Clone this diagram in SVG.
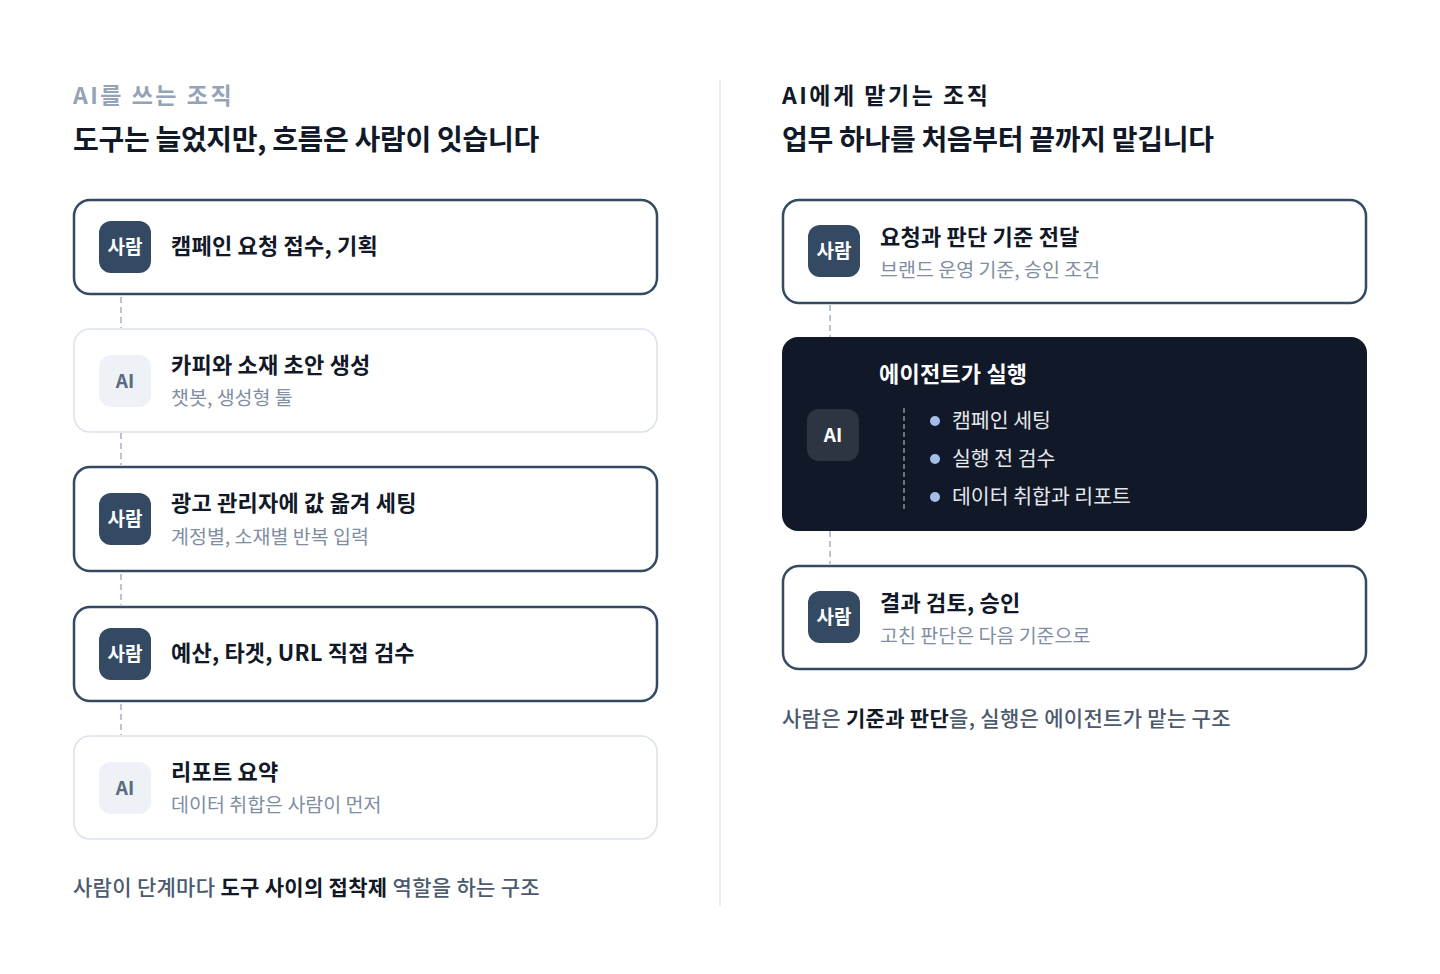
<svg xmlns="http://www.w3.org/2000/svg" width="1440" height="974" viewBox="0 0 1440 974">
<style>
text{font-family:"Noto Sans CJK KR","Noto Sans",sans-serif}
.eyebrow{font-size:23px;font-weight:700;letter-spacing:2.5px}
.h1{font-size:28px;font-weight:700;fill:#111827;letter-spacing:-0.3px}
.card{fill:#fff;stroke:#344a62;stroke-width:2.5}
.card-light{fill:#fff;stroke:#dde3ec;stroke-width:1.6}
.badge{fill:#344a62}
.badge-ai{fill:#eef1f6}
.bt{font-size:19px;font-weight:700;fill:#fff;text-anchor:middle}
.bt-ai{font-size:19px;font-weight:700;fill:#5b6b80;text-anchor:middle}
.title{font-size:22px;font-weight:600;fill:#111827;letter-spacing:0.2px}
.sub{font-size:19.5px;font-weight:400;fill:#7f8ea3}
.foot{font-size:21px;font-weight:500;fill:#4b5a6e;letter-spacing:0.3px}
.foot tspan.b{font-weight:700;fill:#111827}
.conn{stroke:#b9c4d3;stroke-width:2;stroke-dasharray:6 4;fill:none}
.item{font-size:20.5px;font-weight:400;fill:#e5e7eb}
.dot{fill:#a3bfe9}
</style>
<rect width="1440" height="974" fill="#fff"/>
<line x1="720" y1="80" x2="720" y2="906" stroke="#e3e7ed" stroke-width="1.5"/>

<g id="left-header">
<text x="73" y="104" class="eyebrow" fill="#94a3b8">AI를 쓰는 조직</text>
<text x="73" y="150" class="h1">도구는 늘었지만, 흐름은 사람이 잇습니다</text>
</g>

<g id="connectors">
<line class="conn" x1="121" y1="297" x2="121" y2="328"/>
<line class="conn" x1="121" y1="433" x2="121" y2="465"/>
<line class="conn" x1="121" y1="574" x2="121" y2="605"/>
<line class="conn" x1="121" y1="704" x2="121" y2="735"/>
<line class="conn" x1="830" y1="305" x2="830" y2="337"/>
<line class="conn" x1="830" y1="531" x2="830" y2="564"/>
</g>

<g id="l1">
<rect class="card" x="74" y="200" width="583" height="94" rx="16"/>
<rect class="badge" x="99" y="221" width="52" height="52" rx="12"/>
<text class="bt" x="125" y="254">사람</text>
<text class="title" x="171" y="254">캠페인 요청 접수, 기획</text>
</g>

<g id="l2">
<rect class="card-light" x="74" y="329" width="583" height="103" rx="16"/>
<rect class="badge-ai" x="99" y="355" width="52" height="52" rx="12"/>
<text class="bt-ai" x="125" y="388">AI</text>
<text class="title" x="171" y="373">카피와 소재 초안 생성</text>
<text class="sub" x="171" y="405">챗봇, 생성형 툴</text>
</g>

<g id="l3">
<rect class="card" x="74" y="467" width="583" height="104" rx="16"/>
<rect class="badge" x="99" y="493" width="52" height="52" rx="12"/>
<text class="bt" x="125" y="526">사람</text>
<text class="title" x="171" y="511">광고 관리자에 값 옮겨 세팅</text>
<text class="sub" x="171" y="544">계정별, 소재별 반복 입력</text>
</g>

<g id="l4">
<rect class="card" x="74" y="607" width="583" height="94" rx="16"/>
<rect class="badge" x="99" y="628" width="52" height="52" rx="12"/>
<text class="bt" x="125" y="661">사람</text>
<text class="title" x="171" y="661">예산, 타겟, URL 직접 검수</text>
</g>

<g id="l5">
<rect class="card-light" x="74" y="736" width="583" height="103" rx="16"/>
<rect class="badge-ai" x="99" y="762" width="52" height="52" rx="12"/>
<text class="bt-ai" x="125" y="795">AI</text>
<text class="title" x="171" y="780">리포트 요약</text>
<text class="sub" x="171" y="812">데이터 취합은 사람이 먼저</text>
</g>

<g id="left-footer">
<text class="foot" x="73" y="895">사람이 단계마다 <tspan class="b">도구 사이의 접착제</tspan> 역할을 하는 구조</text>
</g>

<g id="right-header">
<text x="782" y="104" class="eyebrow" fill="#111827">AI에게 맡기는 조직</text>
<text x="782" y="150" class="h1">업무 하나를 처음부터 끝까지 맡깁니다</text>
</g>

<g id="r1">
<rect class="card" x="783" y="200" width="583" height="103" rx="16"/>
<rect class="badge" x="808" y="225" width="52" height="52" rx="12"/>
<text class="bt" x="834" y="258">사람</text>
<text class="title" x="880" y="245">요청과 판단 기준 전달</text>
<text class="sub" x="880" y="277">브랜드 운영 기준, 승인 조건</text>
</g>

<g id="r2">
<rect x="782" y="337" width="585" height="194" rx="16" fill="#111827"/>
<rect x="807" y="409" width="52" height="52" rx="12" fill="#2e3542"/>
<text class="bt" x="833" y="442">AI</text>
<text class="title" x="879" y="382" style="fill:#fff">에이전트가 실행</text>
<line x1="904" y1="408" x2="904" y2="510" stroke="#6b7280" stroke-width="2" stroke-dasharray="5 3"/>
<circle class="dot" cx="935" cy="421" r="5"/>
<text class="item" x="952" y="428">캠페인 세팅</text>
<circle class="dot" cx="935" cy="459" r="5"/>
<text class="item" x="952" y="466">실행 전 검수</text>
<circle class="dot" cx="935" cy="497" r="5"/>
<text class="item" x="952" y="504">데이터 취합과 리포트</text>
</g>

<g id="r3">
<rect class="card" x="783" y="566" width="583" height="103" rx="16"/>
<rect class="badge" x="808" y="591" width="52" height="52" rx="12"/>
<text class="bt" x="834" y="624">사람</text>
<text class="title" x="880" y="611">결과 검토, 승인</text>
<text class="sub" x="880" y="643">고친 판단은 다음 기준으로</text>
</g>

<g id="right-footer">
<text class="foot" x="782" y="726">사람은 <tspan class="b">기준과 판단</tspan>을, 실행은 에이전트가 맡는 구조</text>
</g>
</svg>
